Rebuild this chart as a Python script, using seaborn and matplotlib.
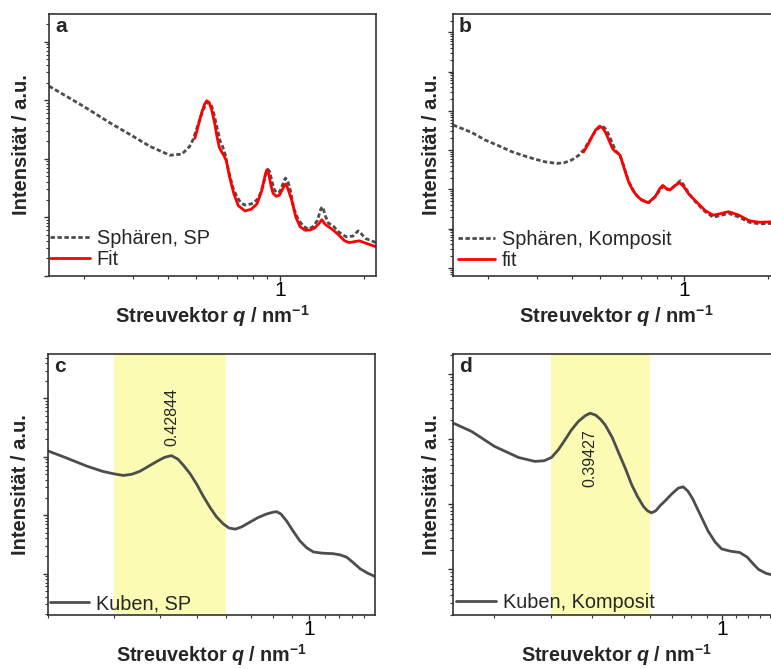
import numpy as np
import pandas as pd
import seaborn as sns
import matplotlib
matplotlib.use("Agg")
import matplotlib.pyplot as plt
from matplotlib.ticker import FixedLocator, FixedFormatter, LogLocator, NullFormatter

# ---------------- data (q in nm^-1, intensity as log10 of a.u.) ----------------
# a: spheres, pure particles + fit
sp_q = [0.150, 0.200, 0.248, 0.300, 0.344, 0.405, 0.447, 0.476, 0.490, 0.510, 0.527, 0.540,
        0.555, 0.567, 0.579, 0.595, 0.612, 0.625, 0.638, 0.650, 0.664, 0.680, 0.702, 0.725,
        0.750, 0.790, 0.828, 0.850, 0.871, 0.890, 0.905, 0.920, 0.935, 0.955, 0.975, 0.996,
        1.020, 1.045, 1.065, 1.090, 1.120, 1.160, 1.210, 1.260, 1.310, 1.360, 1.400, 1.420,
        1.450, 1.490, 1.550, 1.620, 1.720, 1.820, 1.900, 1.950, 2.020, 2.200]
sp_logI = [3.24, 2.89, 2.61, 2.38, 2.21, 2.06, 2.08, 2.21, 2.33, 2.58, 2.78, 2.90,
           2.97, 2.93, 2.80, 2.55, 2.30, 2.20, 2.07, 1.88, 1.69, 1.50, 1.35, 1.25,
           1.21, 1.23, 1.30, 1.40, 1.55, 1.74, 1.82, 1.78, 1.62, 1.47, 1.42, 1.43,
           1.55, 1.67, 1.63, 1.45, 1.15, 0.97, 0.85, 0.80, 0.84, 0.95, 1.15, 1.18,
           1.03, 0.90, 0.85, 0.75, 0.67, 0.68, 0.77, 0.72, 0.64, 0.57]
sp_fit_q = [0.497, 0.510, 0.525, 0.538, 0.548, 0.560, 0.571, 0.585, 0.596, 0.607, 0.619, 0.632,
            0.644, 0.660, 0.684, 0.710, 0.750, 0.790, 0.828, 0.860, 0.885, 0.897, 0.910, 0.930,
            0.945, 0.970, 0.996, 1.030, 1.050, 1.070, 1.100, 1.140, 1.180, 1.230, 1.280, 1.330,
            1.380, 1.410, 1.450, 1.490, 1.550, 1.620, 1.700, 1.770, 1.860, 1.920, 2.050, 2.200]
sp_fit_logI = [2.35, 2.55, 2.78, 2.93, 2.99, 2.95, 2.83, 2.60, 2.38, 2.20, 2.12, 2.05,
               1.96, 1.70, 1.41, 1.20, 1.11, 1.14, 1.23, 1.45, 1.72, 1.81, 1.76, 1.53,
               1.41, 1.36, 1.38, 1.52, 1.57, 1.47, 1.30, 1.00, 0.84, 0.78, 0.785, 0.82,
               0.90, 0.96, 0.88, 0.84, 0.78, 0.70, 0.60, 0.57, 0.59, 0.60, 0.55, 0.50]

# b: spheres in composite + fit
sk_q = [0.150, 0.175, 0.195, 0.220, 0.243, 0.270, 0.294, 0.320, 0.352, 0.375, 0.398, 0.420,
        0.438, 0.455, 0.469, 0.485, 0.500, 0.512, 0.524, 0.536, 0.552, 0.569, 0.580, 0.591,
        0.603, 0.616, 0.635, 0.658, 0.680, 0.708, 0.747, 0.790, 0.820, 0.845, 0.870, 0.893,
        0.930, 0.971, 1.000, 1.040, 1.100, 1.190, 1.270, 1.350, 1.440, 1.560, 1.710, 1.850,
        2.050, 2.200]
sk_logI = [3.64, 3.45, 3.26, 3.10, 2.96, 2.85, 2.77, 2.70, 2.66, 2.68, 2.75, 2.86,
           3.00, 3.18, 3.34, 3.50, 3.58, 3.61, 3.55, 3.43, 3.22, 3.00, 2.92, 2.87,
           2.70, 2.49, 2.20, 1.98, 1.84, 1.73, 1.66, 1.81, 1.98, 2.08, 2.00, 1.98,
           2.10, 2.22, 2.10, 1.90, 1.68, 1.43, 1.29, 1.33, 1.39, 1.30, 1.16, 1.12,
           1.13, 1.12]
sk_fit_q = [0.438, 0.455, 0.470, 0.485, 0.500, 0.512, 0.525, 0.540, 0.556, 0.569, 0.580, 0.591,
            0.603, 0.616, 0.635, 0.658, 0.680, 0.708, 0.747, 0.790, 0.820, 0.840, 0.865, 0.893,
            0.930, 0.965, 1.000, 1.040, 1.100, 1.190, 1.270, 1.350, 1.440, 1.560, 1.710, 1.850,
            2.050, 2.200]
sk_fit_logI = [2.95, 3.15, 3.35, 3.52, 3.61, 3.57, 3.45, 3.25, 3.04, 2.96, 2.93, 2.87,
               2.68, 2.47, 2.18, 1.97, 1.83, 1.72, 1.66, 1.82, 2.02, 2.10, 2.02, 1.99,
               2.10, 2.17, 2.06, 1.88, 1.70, 1.46, 1.34, 1.38, 1.43, 1.35, 1.20, 1.16,
               1.17, 1.16]

# c: cubes, pure particles
kp_q = [0.200, 0.224, 0.254, 0.280, 0.299, 0.318, 0.335, 0.352, 0.370, 0.391, 0.410, 0.428,
        0.445, 0.460, 0.480, 0.500, 0.520, 0.543, 0.565, 0.589, 0.610, 0.634, 0.660, 0.694,
        0.730, 0.769, 0.800, 0.818, 0.840, 0.870, 0.905, 0.944, 0.985, 1.026, 1.080, 1.160,
        1.210, 1.260, 1.310, 1.370, 1.430, 1.500]
kp_logI = [2.10, 1.98, 1.84, 1.75, 1.71, 1.68, 1.70, 1.75, 1.83, 1.92, 1.99, 2.02,
           1.96, 1.86, 1.71, 1.53, 1.33, 1.13, 0.97, 0.85, 0.78, 0.76, 0.80, 0.88,
           0.96, 1.02, 1.05, 1.06, 1.02, 0.90, 0.73, 0.56, 0.44, 0.37, 0.35, 0.34,
           0.32, 0.28, 0.19, 0.08, 0.01, -0.05]

# d: cubes in composite
kk_q = [0.150, 0.171, 0.201, 0.238, 0.267, 0.285, 0.300, 0.315, 0.330, 0.345, 0.362, 0.380,
        0.394, 0.410, 0.425, 0.438, 0.460, 0.480, 0.505, 0.528, 0.550, 0.573, 0.590, 0.607,
        0.625, 0.645, 0.667, 0.700, 0.733, 0.759, 0.785, 0.810, 0.850, 0.904, 0.950, 0.995,
        1.060, 1.130, 1.190, 1.240, 1.290, 1.360, 1.410, 1.500]
kk_logI = [2.25, 2.12, 1.89, 1.72, 1.66, 1.67, 1.72, 1.84, 1.99, 2.14, 2.27, 2.36,
           2.40, 2.37, 2.30, 2.22, 2.03, 1.81, 1.55, 1.30, 1.12, 0.97, 0.90, 0.87,
           0.90, 0.98, 1.05, 1.16, 1.25, 1.27, 1.20, 1.09, 0.87, 0.59, 0.42, 0.315,
           0.28, 0.26, 0.19, 0.09, 0.00, -0.06, -0.08, -0.12]

band_c = (0.3, 0.6)
band_d = (0.3, 0.6)
peak_c = 0.42844
peak_d = 0.39427

GREY = "#4d4d4d"
RED = "#ff0000"
BAND = "#fbfbb4"


def frame(q, logI):
    return pd.DataFrame({"q": q, "I": 10.0 ** np.asarray(logI)})


sns.set_theme(style="ticks")
plt.rcParams["font.family"] = ["Liberation Sans", "DejaVu Sans"]
plt.rcParams["mathtext.fontset"] = "custom"
plt.rcParams["mathtext.rm"] = "Liberation Sans:bold"
plt.rcParams["mathtext.it"] = "Liberation Sans:italic:bold"
plt.rcParams["mathtext.bf"] = "Liberation Sans:bold"

fig = plt.figure(figsize=(7.71, 6.69), dpi=100)
W, H = 771.0, 669.0


def make_ax(left, top, width, height):
    return fig.add_axes([left / W, 1 - (top + height) / H, width / W, height / H])


ax_a = make_ax(49, 14, 327, 262)
ax_b = make_ax(453, 14, 327, 262)
ax_c = make_ax(48, 354, 327, 261)
ax_d = make_ax(453, 354, 327, 261)


def style(ax, xlim, ylim, minor_x, letter, ylab_x, xlab_y, xlab_size):
    ax.set_xscale("log")
    ax.set_yscale("log")
    ax.set_xlim(*xlim)
    ax.set_ylim(10 ** ylim[0], 10 ** ylim[1])
    ax.xaxis.set_major_locator(FixedLocator([1.0]))
    ax.xaxis.set_major_formatter(FixedFormatter(["1"]))
    ax.xaxis.set_minor_locator(FixedLocator(minor_x))
    ax.xaxis.set_minor_formatter(NullFormatter())
    ax.yaxis.set_major_locator(LogLocator(base=10, numticks=30))
    ax.yaxis.set_minor_locator(LogLocator(base=10, subs=np.arange(2, 10), numticks=200))
    ax.yaxis.set_major_formatter(NullFormatter())
    ax.yaxis.set_minor_formatter(NullFormatter())
    ax.tick_params(which="major", direction="out", length=3.5, width=1.0, color="#333333",
                   labelsize=15, pad=0.0, labelcolor="black")
    ax.tick_params(which="minor", direction="out", length=2.3, width=0.8, color="#333333")
    for s in ax.spines.values():
        s.set_linewidth(1.2)
        s.set_color("#333333")
    ax.set_xlabel(r"Streuvektor $\mathit{q}$ / nm$^{-1}$", fontsize=xlab_size,
                  fontweight="bold")
    ax.set_ylabel("Intensität / a.u.", fontsize=14.5, fontweight="bold")
    ax.yaxis.set_label_coords(ylab_x, 0.5)
    ax.xaxis.set_label_coords(0.5, xlab_y)
    ax.text(0.018, 0.99, letter, transform=ax.transAxes, fontsize=15, fontweight="bold",
            ha="left", va="top")


def legend(ax, x0, y0, handlelength):
    ax.legend(loc="lower left", bbox_to_anchor=(x0, y0), frameon=False, fontsize=14.3,
              handlelength=handlelength, handletextpad=0.35, labelspacing=0.12,
              borderaxespad=0.0, borderpad=0.0)


minor_ab = [0.2, 0.3, 0.4, 0.5, 0.6, 0.7, 0.8, 0.9, 2.0]
minor_cd = [0.2, 0.3, 0.4, 0.5, 0.6, 0.7, 0.8, 0.9, 1.1, 1.2, 1.3, 1.4]

# ---- a ----
style(ax_a, (0.15, 2.2), (0.0, 4.47), minor_ab, "a", -0.055, -0.102, 14.5)
sns.lineplot(data=frame(sp_q, sp_logI), x="q", y="I", ax=ax_a, color=GREY, lw=2.0,
             linestyle=(0, (1.6, 0.9)), label="Sphären, SP", estimator=None)
sns.lineplot(data=frame(sp_fit_q, sp_fit_logI), x="q", y="I", ax=ax_a, color=RED, lw=2.0,
             label="Fit", estimator=None)
legend(ax_a, 0.003, 0.025, 2.0)

# ---- b ----
style(ax_b, (0.15, 2.2), (-0.21, 6.47), minor_ab, "b", -0.037, -0.102, 14.5)
sns.lineplot(data=frame(sk_q, sk_logI), x="q", y="I", ax=ax_b, color=GREY, lw=2.0,
             linestyle=(0, (1.6, 0.9)), label="Sphären, Komposit", estimator=None)
sns.lineplot(data=frame(sk_fit_q, sk_fit_logI), x="q", y="I", ax=ax_b, color=RED, lw=2.0,
             label="fit", estimator=None)
legend(ax_b, 0.015, 0.022, 1.85)

# ---- c ----
style(ax_c, (0.2, 1.5), (-0.71, 3.76), minor_cd, "c", -0.055, -0.103, 14.2)
ax_c.axvspan(*band_c, color=BAND, lw=0, zorder=0)
sns.lineplot(data=frame(kp_q, kp_logI), x="q", y="I", ax=ax_c, color=GREY, lw=2.0,
             label="Kuben, SP", estimator=None)
ax_c.text(peak_c, 10 ** 2.69, f"{peak_c:.5f}", rotation=90, ha="center", va="center",
          fontsize=11.5)
legend(ax_c, 0.006, 0.006, 1.95)

# ---- d ----
style(ax_d, (0.15, 1.5), (-0.70, 3.31), minor_cd, "d", -0.037, -0.103, 14.2)
ax_d.axvspan(*band_d, color=BAND, lw=0, zorder=0)
sns.lineplot(data=frame(kk_q, kk_logI), x="q", y="I", ax=ax_d, color=GREY, lw=2.0,
             label="Kuben, Komposit", estimator=None)
ax_d.text(peak_d, 10 ** 1.715, f"{peak_d:.5f}", rotation=90, ha="center", va="center",
          fontsize=11.5)
legend(ax_d, 0.008, 0.0125, 2.05)

fig.savefig("out.png", dpi=100)
